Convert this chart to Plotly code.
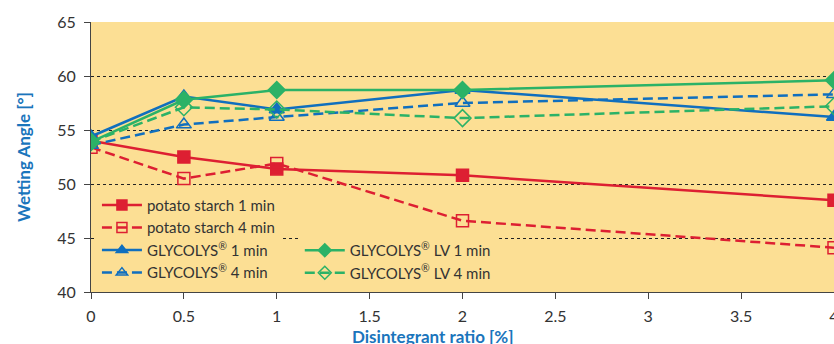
import plotly.graph_objects as go

x_vals = [0, 0.5, 1, 2, 4]
potato_1 = [54.0, 52.5, 51.4, 50.8, 48.5]
potato_4 = [53.4, 50.5, 51.9, 46.6, 44.1]
gly_1 = [54.4, 58.1, 56.9, 58.7, 56.2]
gly_4 = [53.6, 55.5, 56.2, 57.5, 58.3]
glylv_1 = [53.9, 57.8, 58.7, 58.7, 59.6]
glylv_4 = [53.9, 57.1, 56.9, 56.1, 57.2]

names = ["potato starch 1 min", "potato starch 4 min",
         "GLYCOLYS<sup>®</sup> 1 min", "GLYCOLYS<sup>®</sup> 4 min",
         "GLYCOLYS<sup>®</sup> LV 1 min", "GLYCOLYS<sup>®</sup> LV 4 min"]
x_ticks = [0, 0.5, 1, 1.5, 2, 2.5, 3, 3.5, 4]
x_ticktext = ["0", "0.5", "1", "1.5", "2", "2.5", "3", "3.5", "4"]
y_ticks = [40, 45, 50, 55, 60, 65]

RED = "#DD1F32"
BLUE = "#106FBE"
GREEN = "#2BB267"
TITLE_BLUE = "#1A75BC"
PLOT_BG = "#FCDF94"

series = [
    (potato_1, names[0], RED, "solid", "square", "legend"),
    (potato_4, names[1], RED, "10px,5px", "square-open", "legend"),
    (gly_1, names[2], BLUE, "solid", "triangle-up", "legend"),
    (gly_4, names[3], BLUE, "10px,5px", "triangle-up-open", "legend"),
    (glylv_1, names[4], GREEN, "solid", "diamond", "legend2"),
    (glylv_4, names[5], GREEN, "10px,5px", "diamond-open", "legend2"),
]

fig = go.Figure()
for ys, nm, col, dash, sym, lg in series:
    fig.add_trace(go.Scatter(
        x=x_vals, y=ys, name=nm, mode="lines+markers", showlegend=False,
        line=dict(color=col, width=2.5, dash=dash),
        marker=dict(symbol=sym, size=12 if "square" in sym else 13, color=col,
                    line=dict(color=col, width=1.5)),
    ))
# legend entries (smaller legend symbols, as in the reference)
for ys, nm, col, dash, sym, lg in series:
    fig.add_trace(go.Scatter(
        x=[None], y=[None], name=nm, mode="lines+markers", showlegend=True,
        line=dict(color=col, width=2.5, dash=dash),
        marker=dict(symbol=sym, size=10, color=col, line=dict(color=col, width=1.5)),
        legend=lg,
    ))

font_family = "Lato, Open Sans, sans-serif"
fig.update_layout(
    width=834, height=344,
    margin=dict(l=91, r=0, t=22, b=52),
    paper_bgcolor="white",
    plot_bgcolor=PLOT_BG,
    font=dict(family=font_family, size=16, color="#333333"),
    legend=dict(x=0.008, y=0.382, xanchor="left", yanchor="top",
                bgcolor=PLOT_BG, font=dict(size=15, color="#333333"),
                tracegroupgap=0, itemwidth=40),
    legend2=dict(x=0.281, y=0.215, xanchor="left", yanchor="top",
                 bgcolor=PLOT_BG, font=dict(size=15, color="#333333"),
                 itemwidth=40),
    xaxis=dict(range=[0, 4], tickvals=x_ticks, ticktext=x_ticktext,
               automargin=False, ticklabelstandoff=4, ticklabeloverflow="allow",
               showgrid=False, zeroline=False, showline=True, linecolor="#444444",
               linewidth=1.2, ticks="outside", ticklen=6, tickcolor="#444444"),
    yaxis=dict(range=[40, 65], tickvals=y_ticks, automargin=False,
               ticklabelstandoff=5,
               showgrid=True, gridcolor="#222222", griddash="3px,3px", gridwidth=1,
               zeroline=False, showline=True, linecolor="#444444", linewidth=1.2,
               ticks="outside", ticklen=6, tickcolor="#444444",
               title=dict(text="<b>Wetting Angle [°]</b>",
                          font=dict(size=17, color=TITLE_BLUE), standoff=22)),
    annotations=[dict(text="<b>Disintegrant ratio [%]</b>", xref="paper", yref="paper",
                      x=0.46, y=-0.163, xanchor="center", yanchor="middle",
                      showarrow=False, font=dict(size=17, color=TITLE_BLUE))],
)

fig.write_html(
    "out.html",
    config={"displayModeBar": False},
    post_script="document.body.style.margin='0';document.body.style.overflow='hidden';",
)
